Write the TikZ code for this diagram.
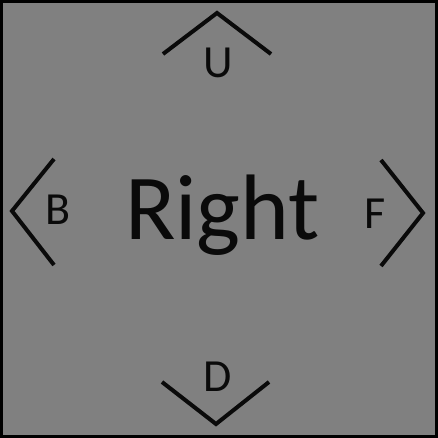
\documentclass[tikz,border=0pt]{standalone}
\usepackage{fontspec}
\setmainfont{Carlito}
\definecolor{facegray}{HTML}{808080}
\definecolor{inkblack}{HTML}{0A0A0A}
\tikzset{
  chevron/.style={draw=inkblack, line width=4pt, line join=miter},
  sidelabel/.style={inner sep=0pt, text=inkblack, font=\fontsize{46}{46}\selectfont},
  facelabel/.style={inner sep=0pt, anchor=base, text=inkblack, font=\fontsize{93}{93}\selectfont}
}
\begin{document}
\begin{tikzpicture}[x=1pt, y=-1pt]
  \useasboundingbox (0, 0) rectangle (438, 438);

  % Face and border
  \fill [facegray] (0, 0) rectangle (438, 438);
  \draw [black, line width=3pt] (1.5, 1.5) rectangle (436.5, 436.5);

  % Face name
  \node [facelabel] (face) at (222.5, 239) {Right};

  % Neighbouring faces
  \node [sidelabel] (up)    at (218, 63)  {U};
  \node [sidelabel] (back)  at (58, 210)  {B};
  \node [sidelabel] (front) at (375, 214) {F};
  \node [sidelabel] (down)  at (218, 377) {D};

  % Chevrons towards each side
  \foreach \ax/\ay/\bx/\by/\cx/\cy in {
    163/54/217/13/271/54,
    54/159/12/211/54/265,
    381/160/423/213/381/266,
    162/382/216/424/269/382%
  } {
    \draw [chevron] (\ax, \ay) -- (\bx, \by) -- (\cx, \cy);
  }
\end{tikzpicture}
\end{document}
